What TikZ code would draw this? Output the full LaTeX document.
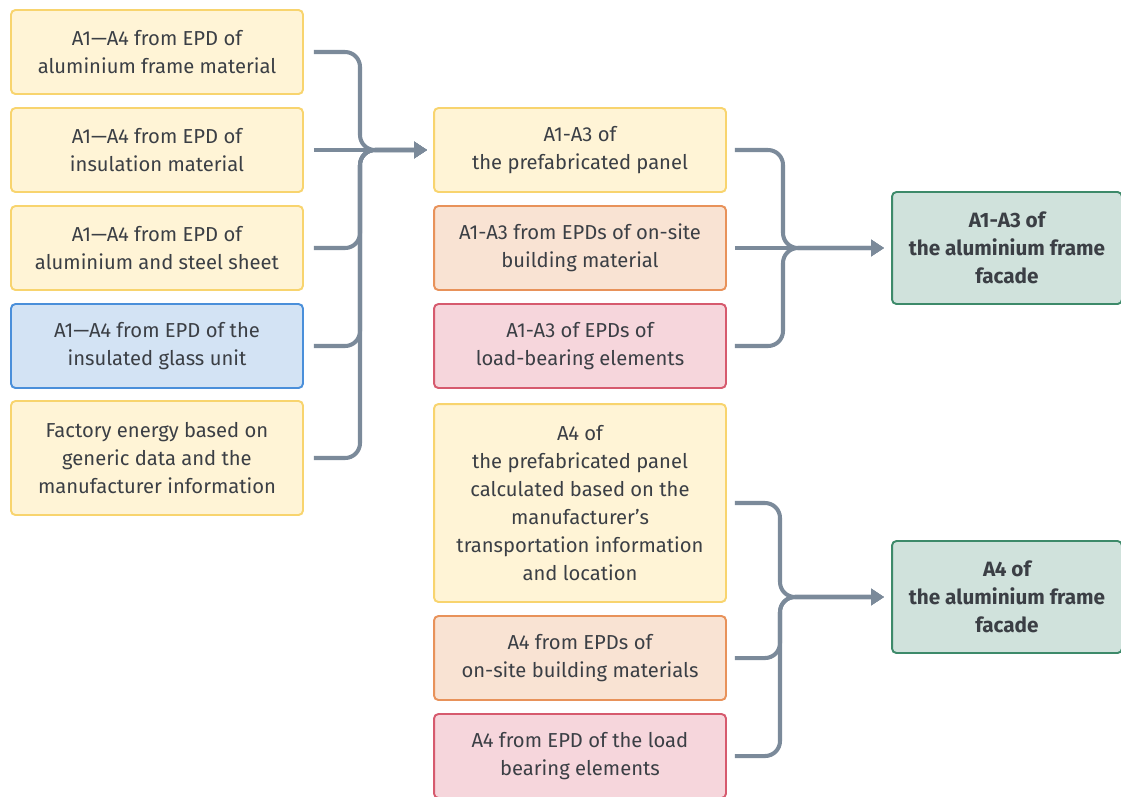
\documentclass[tikz,border=0pt]{standalone}
\usepackage{fontspec}
\setmainfont{Fira Sans}
\usepackage{tikz}
\usetikzlibrary{arrows.meta,calc,positioning}
\definecolor{ink}{RGB}{59,63,69}
\definecolor{wire}{RGB}{123,138,154}
\definecolor{yfill}{RGB}{255,244,214}
\definecolor{yline}{RGB}{248,212,110}
\definecolor{ofill}{RGB}{249,227,211}
\definecolor{oline}{RGB}{232,146,90}
\definecolor{pfill}{RGB}{246,214,220}
\definecolor{pline}{RGB}{214,90,110}
\definecolor{bfill}{RGB}{211,227,244}
\definecolor{bline}{RGB}{74,143,218}
\definecolor{gfill}{RGB}{208,226,220}
\definecolor{gline}{RGB}{61,138,106}

\begin{document}
\begin{tikzpicture}[x=0.02cm,y=-0.02cm,
  font=\fontsize{11.5}{15.9}\selectfont,text=ink,
  box/.style={draw,rounded corners=2.5pt,line width=1.1pt,align=center,
    minimum width=5.84cm,minimum height=1.68cm,inner sep=2pt},
  ybox/.style={box,fill=yfill,draw=yline},
  obox/.style={box,fill=ofill,draw=oline},
  pbox/.style={box,fill=pfill,draw=pline},
  bbox/.style={box,fill=bfill,draw=bline},
  gbox/.style={box,fill=gfill,draw=gline,minimum width=4.6cm,minimum height=2.24cm,
    font=\fontsize{11.8}{15.9}\selectfont\bfseries},
  conn/.style={draw=wire,line width=2.3pt,rounded corners=0.3cm,
    -{Triangle[length=2.6mm,width=3.2mm]}},
  ]
  \useasboundingbox (0,0) rectangle (1121,796);

  % left column
  \node[ybox] (l1) at (157,52) {A1---A4 from EPD of\\aluminium frame material};
  \node[ybox] (l2) at (157,150) {A1---A4 from EPD of\\insulation material};
  \node[ybox] (l3) at (157,248) {A1---A4 from EPD of\\aluminium and steel sheet};
  \node[bbox] (l4) at (157,346) {A1---A4 from EPD of the\\insulated glass unit};
  \node[ybox,minimum height=2.28cm] (l5) at (157,458)
    {Factory energy based on\\generic data and the\\manufacturer information};

  % middle column
  \node[ybox] (m1) at (580,150) {A1-A3 of\\the prefabricated panel};
  \node[obox] (m2) at (580,248) {A1-A3 from EPDs of on-site\\building material};
  \node[pbox] (m3) at (580,346) {A1-A3 of EPDs of\\load-bearing elements};
  \node[ybox,minimum height=3.96cm] (m4) at (580,503)
    {A4 of\\the prefabricated panel\\calculated based on the\\manufacturer's\\transportation information\\and location};
  \node[obox] (m5) at (580,658) {A4 from EPDs of\\on-site building materials};
  \node[pbox] (m6) at (580,756) {A4 from EPD of the load\\bearing elements};

  % right column
  \node[gbox] (r1) at (1007,248) {A1-A3 of\\the aluminium frame\\facade};
  \node[gbox] (r2) at (1007,597) {A4 of\\the aluminium frame\\facade};

  % joins
  \coordinate (j1) at (360,150);
  \coordinate (j2) at (783,248);
  \coordinate (j3) at (780,597);

  \foreach \n in {l1,l3,l4,l5}
    \draw[conn,shorten <=0.2cm,shorten >=0.12cm] (\n.east) -| (j1) -- (m1.west);
  \draw[conn,shorten <=0.2cm,shorten >=0.12cm] (l2.east) -- (m1.west);

  \foreach \n in {m1,m3}
    \draw[conn,shorten <=0.16cm,shorten >=0.14cm] (\n.east) -| (j2) -- (r1.west);
  \draw[conn,shorten <=0.16cm,shorten >=0.14cm] (m2.east) -- (r1.west);

  \foreach \n in {m4,m5,m6}
    \draw[conn,shorten <=0.16cm,shorten >=0.14cm] (\n.east) -| (j3) -- (r2.west);
\end{tikzpicture}
\end{document}
